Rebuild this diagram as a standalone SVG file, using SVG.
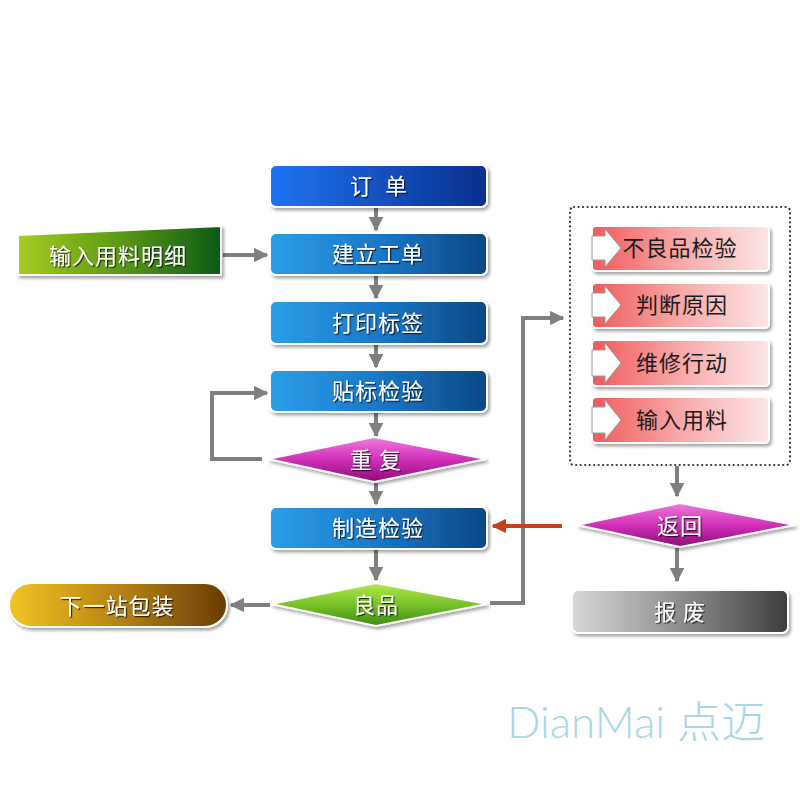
<svg xmlns="http://www.w3.org/2000/svg" width="800" height="800" viewBox="0 0 800 800">
<defs>
<linearGradient id="gBlue1" x1="0" y1="0" x2="1" y2="0"><stop offset="0" stop-color="#1f74f2"/><stop offset="1" stop-color="#0a2f8e"/></linearGradient>
<linearGradient id="gBlue" x1="0" y1="0" x2="1" y2="0"><stop offset="0" stop-color="#2c9ee6"/><stop offset="0.5" stop-color="#1a78c8"/><stop offset="1" stop-color="#0b4781"/></linearGradient>
<linearGradient id="gGreenBox" x1="0" y1="0" x2="1" y2="0"><stop offset="0" stop-color="#a6cc1e"/><stop offset="0.5" stop-color="#5c9a16"/><stop offset="1" stop-color="#0c5a14"/></linearGradient>
<linearGradient id="gGold" x1="0" y1="0" x2="1" y2="0"><stop offset="0" stop-color="#f2c425"/><stop offset="0.5" stop-color="#b88414"/><stop offset="1" stop-color="#683c02"/></linearGradient>
<linearGradient id="gMag" x1="0" y1="0" x2="0" y2="1"><stop offset="0" stop-color="#f27ae0"/><stop offset="0.5" stop-color="#d030b8"/><stop offset="1" stop-color="#8c0c78"/></linearGradient>
<linearGradient id="gGreenD" x1="0" y1="0" x2="0" y2="1"><stop offset="0" stop-color="#b4ea4a"/><stop offset="0.5" stop-color="#78c22a"/><stop offset="1" stop-color="#3e8c10"/></linearGradient>
<linearGradient id="gPink" x1="0" y1="0" x2="1" y2="0"><stop offset="0" stop-color="#f05a5a"/><stop offset="0.5" stop-color="#f8a8a8"/><stop offset="1" stop-color="#fde6e6"/></linearGradient>
<linearGradient id="gGray" x1="0" y1="0" x2="1" y2="0"><stop offset="0" stop-color="#d8d8d8"/><stop offset="0.5" stop-color="#8e8e8e"/><stop offset="1" stop-color="#3e3e3e"/></linearGradient>
<filter id="ts" x="-10%" y="-30%" width="130%" height="160%"><feDropShadow dx="1.2" dy="1.2" stdDeviation="0.6" flood-color="#000" flood-opacity="0.75"/></filter>
<filter id="bs" x="-5%" y="-10%" width="115%" height="130%"><feDropShadow dx="2" dy="2.5" stdDeviation="1.5" flood-color="#000" flood-opacity="0.35"/></filter>
<marker id="ah" viewBox="0 0 10 10" refX="9" refY="5" markerWidth="3.6" markerHeight="3.6" orient="auto" markerUnits="strokeWidth"><path d="M0,0 L10,5 L0,10 Z" fill="#7f7f7f"/></marker>
<marker id="ahr" viewBox="0 0 10 10" refX="9" refY="5" markerWidth="3.6" markerHeight="3.6" orient="auto" markerUnits="strokeWidth"><path d="M0,0 L10,5 L0,10 Z" fill="#c8401a"/></marker>
</defs>
<style>
.t{font-family:"Noto Sans CJK SC","Noto Sans",sans-serif;font-size:22px;letter-spacing:1px;text-anchor:middle;fill:#fff;filter:url(#ts)}
.td{font-family:"Noto Sans CJK SC","Noto Sans",sans-serif;font-size:22px;letter-spacing:1px;text-anchor:middle;fill:#1a1a1a}
.box{stroke:#fff;stroke-width:2;filter:url(#bs)}
.c{fill:none;stroke:#7f7f7f;stroke-width:4;marker-end:url(#ah)}
.chev{fill:#fff;stroke:#9a9a9a;stroke-width:1}
.pre{white-space:pre}
</style>
<rect width="800" height="800" fill="#fff"/>

<g id="connectors">
<path class="c" d="M376,208 V230"/>
<path class="c" d="M376,276 V298"/>
<path class="c" d="M376,345 V367"/>
<path class="c" d="M376,413 V436"/>
<path class="c" d="M376,483 V504"/>
<path class="c" d="M376,550 V580"/>
<path class="c" d="M223,255 H267"/>
<path class="c" d="M262,459 H212 V393 H267"/>
<path class="c" d="M270,605 H231"/>
<path class="c" d="M490,603 H523 V318 H563"/>
<path class="c" d="M677,466 V496"/>
<path class="c" d="M677,548 V581"/>
<path fill="none" stroke="#c8401a" stroke-width="4" marker-end="url(#ahr)" d="M562,526 H493"/>
</g>

<g id="order"><rect class="box" x="270" y="165" width="217" height="42" rx="6" fill="url(#gBlue1)"/><text class="t pre" x="379" y="194" xml:space="preserve">订  单</text></g>
<g id="workorder"><rect class="box" x="270" y="233" width="217" height="42" rx="6" fill="url(#gBlue)"/><text class="t" x="378" y="262">建立工单</text></g>
<g id="printlabel"><rect class="box" x="270" y="301" width="217" height="43" rx="6" fill="url(#gBlue)"/><text class="t" x="378" y="331">打印标签</text></g>
<g id="labelcheck"><rect class="box" x="270" y="370" width="217" height="42" rx="6" fill="url(#gBlue)"/><text class="t" x="378" y="399">贴标检验</text></g>
<g id="repeat"><polygon class="box" points="268,459 374,437 486,459 374,482" fill="url(#gMag)"/><text class="t" x="376" y="468">重 复</text></g>
<g id="mfgcheck"><rect class="box" x="270" y="507" width="217" height="42" rx="6" fill="url(#gBlue)"/><text class="t" x="378" y="536">制造检验</text></g>
<g id="good"><polygon class="box" points="271,604 376,583 487,604 376,626" fill="url(#gGreenD)"/><text class="t" x="376" y="613">良品</text></g>
<g id="bom"><polygon class="box" points="18,235 221,226 221,275 18,275" fill="url(#gGreenBox)"/><text class="t" x="118" y="264">输入用料明细</text></g>
<g id="nextstation"><rect class="box" x="9" y="583" width="218" height="44" rx="22" fill="url(#gGold)"/><text class="t" x="117" y="614">下一站包装</text></g>

<g id="repairbox"><rect x="570" y="207" width="220" height="258" rx="4" fill="none" stroke="#333" stroke-width="2.2" stroke-dasharray="0.1 4.4" stroke-linecap="round"/></g>
<g id="defectcheck"><rect class="box" x="592" y="226" width="177" height="45" rx="4" fill="url(#gPink)"/><polygon class="chev" points="592,236 605,236 605,229 621,248 605,267 605,260 592,260"/><text class="td" x="680" y="256">不良品检验</text></g>
<g id="cause"><rect class="box" x="592" y="283" width="177" height="45" rx="4" fill="url(#gPink)"/><polygon class="chev" points="592,293 605,293 605,286 621,305 605,324 605,317 592,317"/><text class="td" x="682" y="313">判断原因</text></g>
<g id="repair"><rect class="box" x="592" y="340" width="177" height="46" rx="4" fill="url(#gPink)"/><polygon class="chev" points="592,350 605,350 605,343 621,363 605,383 605,376 592,376"/><text class="td" x="682" y="371">维修行动</text></g>
<g id="material"><rect class="box" x="592" y="397" width="177" height="46" rx="4" fill="url(#gPink)"/><polygon class="chev" points="592,407 605,407 605,400 621,420 605,440 605,433 592,433"/><text class="td" x="682" y="428">输入用料</text></g>
<g id="return"><polygon class="box" points="577,525 680,503 795,525 680,547" fill="url(#gMag)"/><text class="t" x="680" y="534">返回</text></g>
<g id="scrap"><rect class="box" x="572" y="590" width="216" height="43" rx="6" fill="url(#gGray)"/><text class="t" x="680" y="620">报 废</text></g>

<text x="507" y="738" font-family="Lato, 'Noto Sans CJK SC', sans-serif" font-weight="300" font-size="44" fill="#a9d6e6">DianMai 点迈</text>
</svg>
